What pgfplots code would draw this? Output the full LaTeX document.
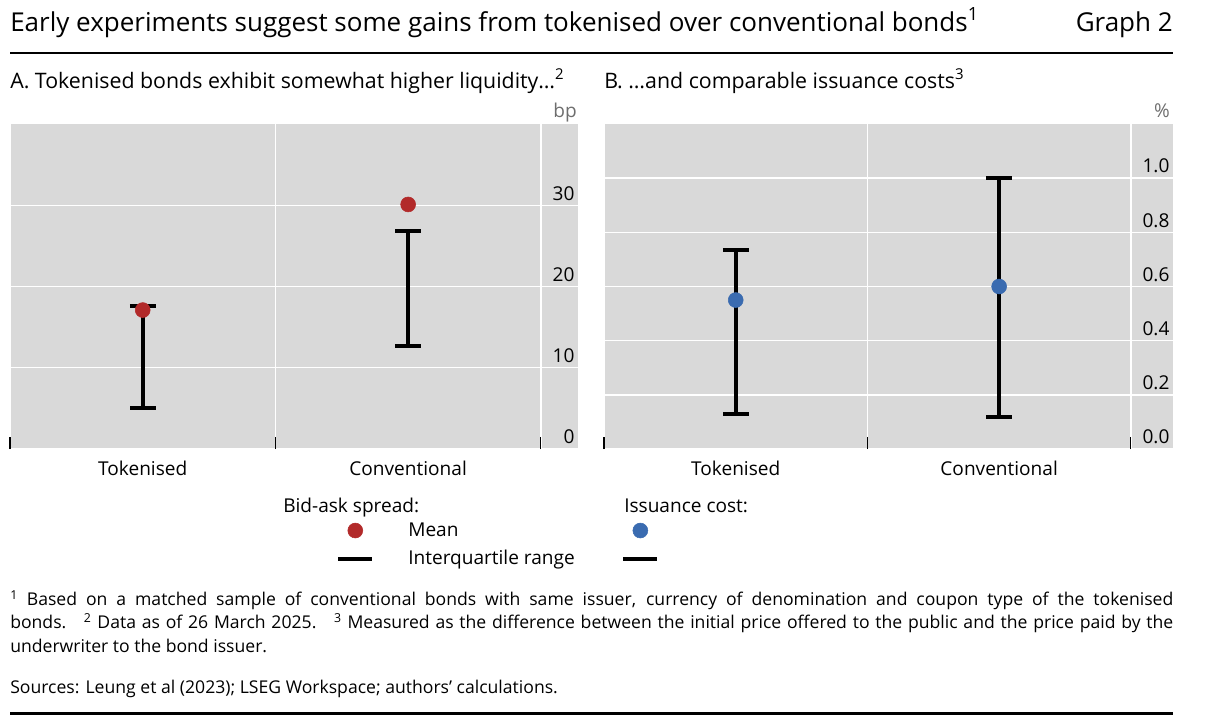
\documentclass[border=0pt]{standalone}
\usepackage{fontspec}
\setmainfont{Open Sans}
\usepackage{pgfplots}
\pgfplotsset{compat=1.18}
\definecolor{bisgray}{RGB}{217,217,217}
\definecolor{bisred}{RGB}{178,42,42}
\definecolor{bisblue}{RGB}{58,107,176}
\definecolor{unitgray}{RGB}{110,110,110}
\newcommand\ftitle{\fontsize{19.5}{23}\selectfont}
\newcommand\fsub{\fontsize{16}{19}\selectfont}
\newcommand\ftick{\fontsize{14.3}{17}\selectfont}
\newcommand\ffoot{\fontsize{13.2}{16}\selectfont}
\pgfplotsset{
  bispanel/.style={
    anchor=south west, scale only axis,
    height=243.75pt,
    xmin=-0.5, ymin=0,
    axis background/.style={fill=bisgray},
    axis line style={draw=none},
    xtick={0,1}, xticklabels={Tokenised,Conventional},
    minor xtick={-0.5,0.5,1.5},
    xminorgrids=true, ymajorgrids=true, xmajorgrids=false,
    grid style={white, line width=1.1pt},
    minor grid style={white, line width=1.1pt},
    yticklabel pos=right, ytick pos=right,
    ytick style={draw=none},
    xtick pos=left,
    major x tick style={draw=none},
    minor x tick style={black, line width=0.9pt},
    tick align=inside,
    minor tick length=9pt,
    tick label style={font=\ftick},
    yticklabel style={anchor=south east, inner sep=0pt, xshift=-2.5pt, yshift=3.5pt},
    xticklabel style={anchor=base, inner sep=0pt, yshift=-19.5pt},
    legend style={draw=none, fill=none, anchor=north west, font=\ftick,
      inner sep=0pt, nodes={inner sep=0pt}, row sep=9pt,
      /tikz/every odd column/.append style={column sep=25.5pt}},
    legend cell align=left,
    clip=false,
  },
  iqr/.style={forget plot, draw=none, mark=none,
    error bars/.cd, y dir=both, y explicit,
    error bar style={line width=3pt, draw=black},
    error mark options={rotate=90, mark size=9.6pt, line width=3pt, draw=black}},
}
\begin{document}
\begin{tikzpicture}
\begin{scope}[x=0.75pt,y=-0.75pt]
\useasboundingbox (0,0) rectangle (1219,719);
\node[anchor=base west, inner sep=0pt, font=\ftitle] at (10,31) {Early experiments suggest some gains from tokenised over conventional bonds\textsuperscript{1}};
\node[anchor=base east, inner sep=0pt, font=\ftitle] at (1173,31) {Graph 2};
\draw[line width=1.5pt] (10,53) -- (1173,53);
\node[anchor=base west, inner sep=0pt, font=\fsub] at (10,88) {A. Tokenised bonds exhibit somewhat higher liquidity…\textsuperscript{2}};
\node[anchor=base west, inner sep=0pt, font=\fsub] at (604,88) {B. …and comparable issuance costs\textsuperscript{3}};
\node[anchor=base east, inner sep=0pt, font=\ftick, text=unitgray] at (577,117) {bp};
\node[anchor=base east, inner sep=0pt, font=\ftick, text=unitgray] at (1170,117) {\%};
\node[anchor=base west, inner sep=0pt, font=\ftick] at (283,512) {Bid-ask spread:};
\node[anchor=base west, inner sep=0pt, font=\ftick] at (624,512) {Issuance cost:};
\node[anchor=base west, inner sep=0pt, font=\ffoot] at (10,605) {\makebox[872.25pt][s]{\textsuperscript{1} Based on a matched sample of conventional bonds with same issuer, currency of denomination and coupon type of the tokenised}};
\node[anchor=base west, inner sep=0pt, font=\ffoot] at (10,628) {\makebox[872.25pt][s]{bonds.\hspace{1em}\textsuperscript{2} Data as of 26 March 2025.\hspace{1em}\textsuperscript{3} Measured as the difference between the initial price offered to the public and the price paid by the}};
\node[anchor=base west, inner sep=0pt, font=\ffoot] at (10,652) {underwriter to the bond issuer.};
\node[anchor=base west, inner sep=0pt, font=\ffoot] at (10,693) {Sources: Leung et al (2023); LSEG Workspace; authors’ calculations.};
\draw[line width=2.25pt] (10,713) -- (1173,713);
\end{scope}

\begin{axis}[bispanel,
  at={(7.5pt,-336.75pt)}, width=426pt,
  xmax=1.64, ymax=40,
  ytick={0,10,20,30}, yticklabels={0,10,20,30},
  legend style={at={(0.574,-0.226)}},
]
\addplot[iqr] coordinates {(0,11.35) +- (0,6.25) (1,19.75) +- (0,7.05)};
\addplot[forget plot, only marks, mark=*, mark size=5.6pt, color=bisred, mark options={fill=bisred, draw=bisred}] coordinates {(0,17.1) (1,30.1)};
\addlegendimage{legend image code/.code={\fill[bisred] (12.75pt,0pt) circle (5.6pt);}}
\addlegendentry{Mean}
\addlegendimage{legend image code/.code={\draw[black, line width=3pt] (0pt,0pt) -- (25.5pt,0pt);}}
\addlegendentry{Interquartile range}
\end{axis}

\begin{axis}[bispanel,
  at={(453pt,-336.75pt)}, width=426.75pt,
  xmax=1.66, ymax=1.2,
  ytick={0,0.2,0.4,0.6,0.8,1.0}, yticklabels={0.0,0.2,0.4,0.6,0.8,1.0},
  legend style={at={(0.030,-0.226)}},
]
\addplot[iqr] coordinates {(0,0.4315) +- (0,0.3035) (1,0.559) +- (0,0.441)};
\addplot[forget plot, only marks, mark=*, mark size=5.6pt, color=bisblue, mark options={fill=bisblue, draw=bisblue}] coordinates {(0,0.55) (1,0.60)};
\addlegendimage{legend image code/.code={\fill[bisblue] (12.75pt,0pt) circle (5.6pt);}}
\addlegendentry{\phantom{Mean}}
\addlegendimage{legend image code/.code={\draw[black, line width=3pt] (0pt,0pt) -- (25.5pt,0pt);}}
\addlegendentry{\phantom{Interquartile range}}
\end{axis}
\end{tikzpicture}
\end{document}
